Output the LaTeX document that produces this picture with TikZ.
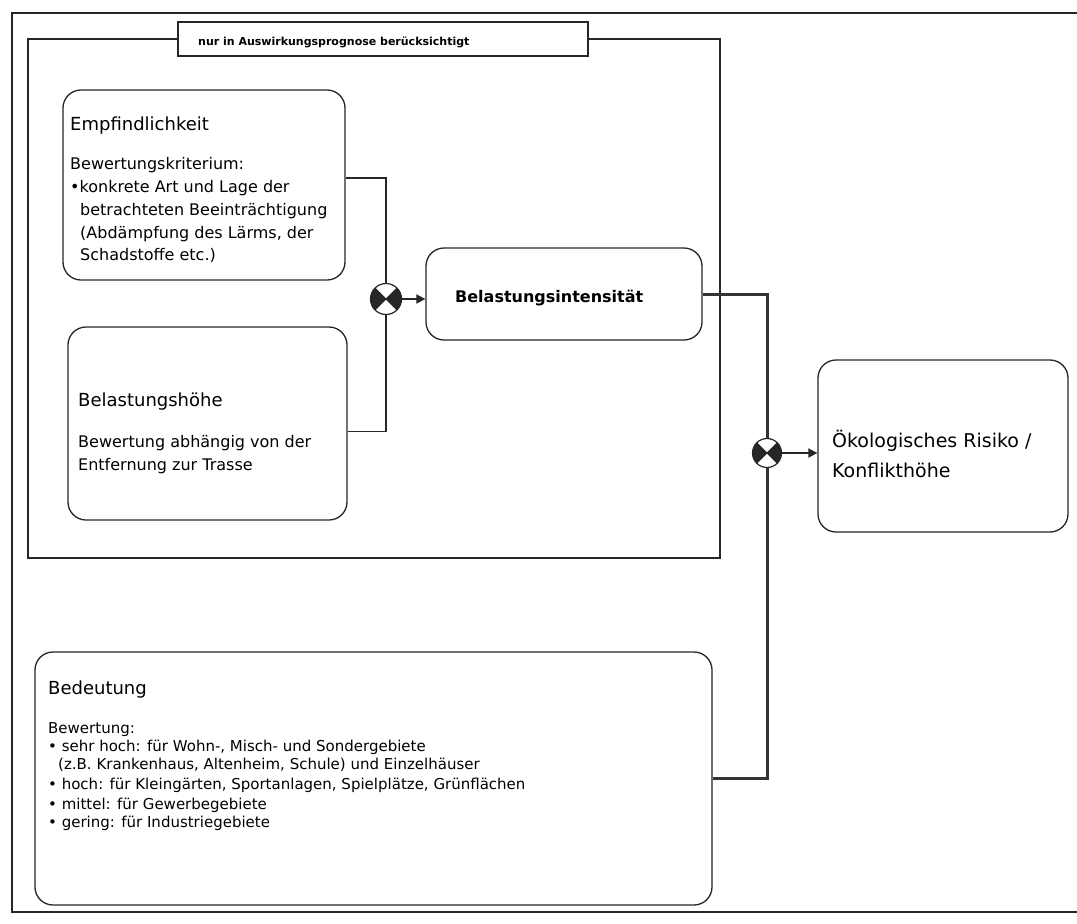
\documentclass[tikz,border=0pt]{standalone}
\usepackage{fontspec}
\setmainfont{DejaVu Sans}
\usetikzlibrary{arrows.meta}
\tikzset{
  ln/.style={draw=black!85, line width=1.3pt},
  thick ln/.style={draw=black!80, line width=3pt},
  box/.style={ln, rounded corners=18pt, inner sep=0pt, fill=white},
  title/.style={anchor=base west, inner sep=0pt, font=\fontsize{18}{18}\selectfont},
  sub/.style={anchor=base west, inner sep=0pt, font=\fontsize{16}{16}\selectfont},
  bsub/.style={anchor=base west, inner sep=0pt, font=\fontsize{15}{15}\selectfont},
  opnode/.style={circle, draw=black!85, line width=1.2pt, minimum size=#1, inner sep=0pt, fill=white,
    path picture={
      \fill[black!85] (path picture bounding box.center) -- (path picture bounding box.north west) -- (path picture bounding box.south west) -- cycle;
      \fill[black!85] (path picture bounding box.center) -- (path picture bounding box.north east) -- (path picture bounding box.south east) -- cycle;
      \draw[black!85, line width=0.8pt] (path picture bounding box.north west) -- (path picture bounding box.south east)
        (path picture bounding box.north east) -- (path picture bounding box.south west);
    }},
  arr/.style={draw=black!85, line width=1.8pt, -{Triangle[length=9pt,width=9pt]}},
}
\begin{document}
\begin{tikzpicture}[x=1pt,y=-1pt]
\useasboundingbox (0,0) rectangle (1077,924);
\fill[white] (0,0) rectangle (1077,924);
% outer frame
\draw[ln] (1080,13) -- (12,13) -- (12,912) -- (1080,912);
% inner frame
\draw[ln, line width=1.6pt] (28,39) rectangle (720,558);
\node[ln, fill=white, minimum width=410pt, minimum height=34pt, inner sep=0pt] (lbl) at (383,39) {};
\node[anchor=west, inner sep=0pt, font=\bfseries\fontsize{11}{11}\selectfont] (lbltxt) at (198,42) {nur in Auswirkungsprognose berücksichtigt};

% boxes
\node[box, minimum width=282pt, minimum height=190pt] (emp) at (204,185) {};
\node[box, minimum width=279pt, minimum height=193pt] (hoe) at (207.5,423.5) {};
\node[box, minimum width=276pt, minimum height=92pt] (int) at (564,294) {};
\node[box, minimum width=250pt, minimum height=172pt] (oek) at (943,446) {};
\node[box, minimum width=677pt, minimum height=253pt] (bed) at (373.5,778.5) {};

% texts Empfindlichkeit
\node[title] (e0) at (70,130) {Empfindlichkeit};
\node[sub] (e1) at (70,169) {Bewertungskriterium:};
\node[sub] (e2) at (70,192) {•konkrete Art und Lage der};
\node[sub] (e3) at (80,215) {betrachteten Beeinträchtigung};
\node[sub] (e4) at (80,238) {(Abdämpfung des Lärms, der};
\node[sub] (e5) at (80,260) {Schadstoffe etc.)};

% Belastungshoehe
\node[title] (h0) at (78,406) {Belastungshöhe};
\node[sub] (h1) at (78,447) {Bewertung abhängig von der};
\node[sub] (h2) at (78,470) {Entfernung zur Trasse};

% Belastungsintensitaet
\node[anchor=base west, inner sep=0pt, font=\bfseries\fontsize{16}{16}\selectfont] (i0) at (455,302) {Belastungsintensität};

% Oekologisches
\node[anchor=base west, inner sep=0pt, font=\fontsize{19}{19}\selectfont] (o0) at (832,447) {Ökologisches Risiko /};
\node[anchor=base west, inner sep=0pt, font=\fontsize{19}{19}\selectfont] (o1) at (832,477) {Konflikthöhe};

% Bedeutung
\node[title] (b0) at (48,694) {Bedeutung};
\node[bsub] (b1) at (48,733) {Bewertung:};
\node[bsub] (b2) at (48,751) {• sehr hoch: für Wohn-, Misch- und Sondergebiete};
\node[bsub] (b3) at (58,769) {(z.B. Krankenhaus, Altenheim, Schule) und Einzelhäuser};
\node[bsub] (b4) at (48,789) {• hoch: für Kleingärten, Sportanlagen, Spielplätze, Grünflächen};
\node[bsub] (b5) at (48,809) {• mittel: für Gewerbegebiete};
\node[bsub] (b6) at (48,827) {• gering: für Industriegebiete};

% operators
\node[opnode=31pt] (op1) at (386,299) {};
\node[opnode=29pt] (op2) at (767,453) {};

% connectors
\draw[ln] ([yshift=7pt]emp.east) -| (op1.north);
\draw[ln] ([yshift=-8pt]hoe.east) -| (op1.south);
\draw[arr] (op1.east) -- (op1.east -| int.west);
\draw[thick ln] (int.east) -| (op2.north);
\draw[thick ln] (bed.east) -| (op2.south);
\draw[arr] (op2.east) -- (op2.east -| oek.west);
\end{tikzpicture}
\end{document}
